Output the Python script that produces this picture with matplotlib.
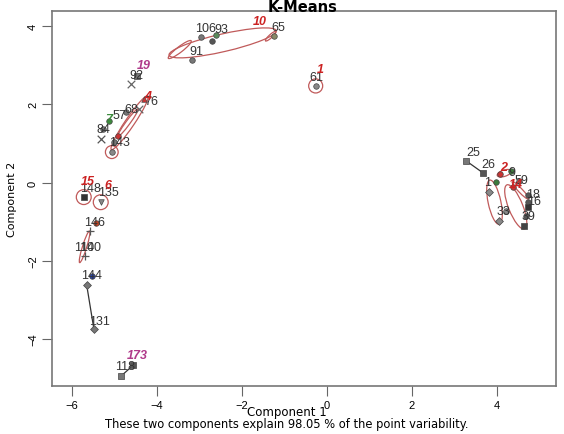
import matplotlib
matplotlib.use("Agg")
import matplotlib.pyplot as plt
from matplotlib.patches import Ellipse

plt.rcParams['font.family'] = ['Liberation Sans', 'DejaVu Sans']

##### DATA #####

# observations (component 1, component 2) with marker and colour
pt_x = [-2.96, -2.61, -2.71, -1.25, -3.18, -0.26,
        -4.47, -4.61, -4.31, -4.42, -4.73, -5.13, -5.27, -4.92, -5.32, -5.01, -5.06,
        -5.72, -5.32, -5.44, -5.58, -5.69, -5.53, -5.65, -5.48,
        -4.56, -4.85,
        3.29, 3.69, 4.09, 4.33, 3.98, 4.52, 4.38, 3.81, 4.73, 4.75, 4.73, 4.21, 4.68, 4.05, 4.64]
pt_y = [3.72, 3.77, 3.62, 3.75, 3.13, 2.47,
        2.72, 2.52, 2.14, 1.88, 1.80, 1.57, 1.37, 1.19, 1.11, 1.04, 0.78,
        -0.37, -0.50, -1.04, -1.24, -1.88, -2.39, -2.62, -3.75,
        -4.67, -4.95,
        0.55, 0.24, 0.22, 0.29, 0.01, 0.04, -0.12, -0.24, -0.32, -0.50, -0.63, -0.73, -0.86, -0.98, -1.11]
pt_marker = ['o', 'o', 'o', 'o', 'o', 'o',
             's', 'x', '^', 'x', 'o', 'o', 'o', 'o', 'x', 'o', 'o',
             's', 'v', 'o', '+', '+', 'o', 'D', 'D',
             's', 's',
             's', 's', 'o', 'o', 'o', 'o', 'o', 'D', 'o', 'o', 's', 'o', 'o', 'D', 's']
pt_color = ['#777777', '#5a8a5a', '#555555', '#888866', '#777777', '#888888',
            '#777777', '#666666', '#cc3333', '#666666', '#777777', '#3c8a3c', '#777777', '#cc3333', '#555555', '#777777', '#888888',
            '#333333', '#888888', '#cc4422', '#555555', '#555555', '#2a44aa', '#777777', '#777777',
            '#555555', '#777777',
            '#777777', '#555555', '#cc3333', '#3c7a3c', '#3c7a3c', '#777777', '#cc3333', '#888888', '#555555', '#555555', '#333333', '#888888', '#555555', '#888888', '#444444']

# observation numbers and where they are written
lab_text = ['106', '93', '65', '91', '61', '92', '76', '68', '57', '84', '143',
            '148', '135', '146', '110', '140', '144', '131', '118',
            '25', '26', '9', '59', '1', '18', '16', '33', '39']
lab_x = [-2.85, -2.48, -1.15, -3.06, -0.24, -4.47, -4.12, -4.59, -4.88, -5.25, -4.89,
         -5.55, -5.15, -5.46, -5.72, -5.55, -5.53, -5.34, -4.75,
         3.44, 3.81, 4.35, 4.59, 3.79, 4.85, 4.87, 4.16, 4.75]
lab_y = [3.95, 3.93, 3.98, 3.36, 2.70, 2.75, 2.08, 1.88, 1.73, 1.37, 1.03,
         -0.14, -0.24, -1.01, -1.65, -1.65, -2.37, -3.54, -4.69,
         0.78, 0.47, 0.27, 0.06, 0.01, -0.29, -0.47, -0.73, -0.86]

# cluster numbers
cl_text = ['10', '1', '19', '4', '7', '15', '6', '173', '2', '14']
cl_x = [-1.58, -0.14, -4.31, -4.21, -5.13, -5.62, -5.15, -4.47, 4.16, 4.45]
cl_y = [4.13, 2.90, 3.00, 2.21, 1.62, 0.04, -0.06, -4.41, 0.40, -0.04]
cl_color = ['#cc2222', '#cc2222', '#b03a8a', '#cc2222', '#3c8a3c', '#cc2222', '#cc2222', '#b03a8a', '#cc2222', '#cc2222']

# cluster ellipses: centre, axes, angle
ell_x = [-2.45, -3.46, -1.32, -0.26, -4.64, -4.68, -5.06, -5.72, -5.32, -5.70, 3.95, 4.45, 4.56, 4.18]
ell_y = [3.57, 3.40, 3.74, 2.47, 1.53, 1.53, 0.78, -0.37, -0.50, -1.64, -0.50, -0.62, -0.20, 0.24]
ell_w = [2.60, 0.70, 0.34, 0.33, 1.62, 0.85, 0.30, 0.35, 0.35, 0.84, 1.15, 1.20, 0.58, 0.35]
ell_h = [0.45, 0.14, 0.08, 0.36, 0.22, 0.10, 0.33, 0.38, 0.38, 0.10, 0.30, 0.34, 0.10, 0.16]
ell_ang = [14, 40, 45, 0, 58, 56, 0, 0, 0, 74, -79, -70, -49, 20]

# distance lines between pairs of observations
seg_a = [23, 27, 25]
seg_b = [24, 28, 26]

##### PLOTTING #####

fig = plt.figure(figsize=(5.64, 4.35), dpi=100)
ax = fig.add_axes([0.092, 0.110, 0.894, 0.862])

for i in range(len(ell_x)):
    ax.add_patch(Ellipse((ell_x[i], ell_y[i]), ell_w[i], ell_h[i], angle=ell_ang[i],
                         fill=False, edgecolor='#c05a5a', lw=0.9))

for a, b in zip(seg_a, seg_b):
    ax.plot([pt_x[a], pt_x[b]], [pt_y[a], pt_y[b]], color='#333333', lw=0.9)

for i in range(len(pt_x)):
    if pt_marker[i] in ('x', '+'):
        ax.scatter(pt_x[i], pt_y[i], marker=pt_marker[i], s=30, color=pt_color[i], lw=0.9, zorder=3)
    else:
        ax.scatter(pt_x[i], pt_y[i], marker=pt_marker[i], s=16, color=pt_color[i],
                   edgecolor='#444444', lw=0.5, zorder=3)

for t, x, y in zip(lab_text, lab_x, lab_y):
    ax.text(x, y, t, fontsize=9, color='#333333', ha='center', va='center', zorder=4)

for t, x, y, c in zip(cl_text, cl_x, cl_y, cl_color):
    ax.text(x, y, t, fontsize=9, color=c, ha='center', va='center',
            fontweight='bold', fontstyle='italic', zorder=5)

ax.set_xlim(-6.47, 5.4)
ax.set_ylim(-5.2, 4.38)
ax.set_xticks([-6, -4, -2, 0, 2, 4])
ax.set_yticks([-4, -2, 0, 2, 4])
ax.tick_params(direction='out', length=7, width=0.8, color='#666666', labelsize=8, pad=3)
plt.setp(ax.get_yticklabels(), rotation=90, va='center')
for s in ax.spines.values():
    s.set_color('#777777')
    s.set_linewidth(1.2)

fig.text(303 / 564, 1.0, 'K-Means', ha='center', va='top', fontsize=10.5,
         fontweight='bold', family='DejaVu Sans')
fig.text(287 / 564, 1 - 413 / 435, 'Component 1', ha='center', va='center',
         fontsize=8.5, family='DejaVu Sans')
fig.text(287 / 564, 1 - 425 / 435, 'These two components explain 98.05 % of the point variability.',
         ha='center', va='center', fontsize=8.3, family='DejaVu Sans')
ax.set_ylabel('Component 2', fontsize=8, family=['Liberation Sans Narrow', 'DejaVu Sans'], labelpad=8)

fig.savefig('out.png', dpi=100)
